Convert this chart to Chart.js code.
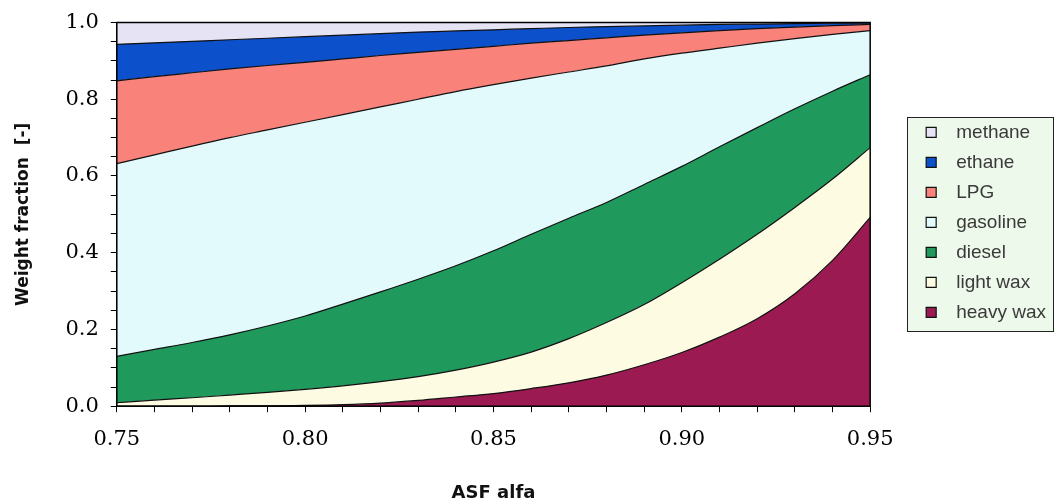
<!DOCTYPE html>
<html>
<head>
<meta charset="utf-8">
<script src="https://cdn.jsdelivr.net/npm/chart.js@4.4.1/dist/chart.umd.min.js"></script>
<style>
  html, body { margin: 0; padding: 0; background: #fff; }
</style>
</head>
<body>
<canvas id="asfChart" width="1056" height="504"></canvas>
<script>
// ASF alfa values on the x axis
const alfa = [0.75, 0.76, 0.77, 0.78, 0.79, 0.80, 0.81, 0.82, 0.83, 0.84, 0.85,
              0.86, 0.87, 0.88, 0.89, 0.90, 0.91, 0.92, 0.93, 0.94, 0.95];

// weight fraction of each product cut (stacked from the bottom)
const heavyWax = [0.000, 0.000, 0.000, 0.001, 0.001, 0.002, 0.004, 0.008, 0.015, 0.024, 0.033,
                  0.046, 0.061, 0.081, 0.108, 0.140, 0.180, 0.228, 0.293, 0.380, 0.492];
const lightWax = [0.009, 0.016, 0.022, 0.028, 0.035, 0.042, 0.049, 0.056, 0.062, 0.070, 0.082,
                  0.095, 0.115, 0.137, 0.157, 0.182, 0.203, 0.220, 0.225, 0.212, 0.182];
const diesel   = [0.121, 0.132, 0.144, 0.157, 0.173, 0.191, 0.213, 0.234, 0.254, 0.272, 0.290,
                  0.307, 0.314, 0.313, 0.313, 0.303, 0.293, 0.278, 0.257, 0.229, 0.190];
const gasoline = [0.502, 0.507, 0.512, 0.514, 0.511, 0.505, 0.494, 0.482, 0.469, 0.454, 0.433,
                  0.407, 0.381, 0.356, 0.327, 0.295, 0.257, 0.220, 0.183, 0.148, 0.115];
const lpg      = [0.216, 0.204, 0.191, 0.179, 0.168, 0.156, 0.145, 0.134, 0.122, 0.110, 0.100,
                  0.091, 0.082, 0.073, 0.062, 0.053, 0.046, 0.038, 0.030, 0.023, 0.016];
const ethane   = [0.095, 0.088, 0.082, 0.076, 0.071, 0.067, 0.062, 0.057, 0.053, 0.048, 0.043,
                  0.038, 0.034, 0.029, 0.024, 0.020, 0.016, 0.012, 0.009, 0.006, 0.004];
const methane  = [0.057, 0.053, 0.049, 0.045, 0.041, 0.037, 0.033, 0.029, 0.025, 0.022, 0.019,
                  0.016, 0.013, 0.011, 0.009, 0.007, 0.005, 0.004, 0.003, 0.002, 0.001];

// labelled ticks
const xTickValues = [0.75, 0.80, 0.85, 0.90, 0.95];
const xTickLabels = ['0.75', '0.80', '0.85', '0.90', '0.95'];
const yTickValues = [0.0, 0.2, 0.4, 0.6, 0.8, 1.0];
const yTickLabels = ['0.0', '0.2', '0.4', '0.6', '0.8', '1.0'];

function pickLabel(values, labels, v) {
    const i = values.findIndex(t => Math.abs(t - v) < 1e-6);
    return i >= 0 ? labels[i] : '';
}

function series(label, values, color, first) {
    return {
        label: label,
        data: values.map((v, i) => ({ x: alfa[i], y: v })),
        backgroundColor: color,
        borderColor: '#111',
        borderWidth: 1.2,
        fill: first ? 'origin' : '-1',
        pointRadius: 0,
        tension: 0.35,
        cubicInterpolationMode: 'monotone'
    };
}

// light green legend box and the black frame round the plot
const boxesPlugin = {
    id: 'boxes',
    beforeDraw(chart) {
        const hb = chart.legend && chart.legend.legendHitBoxes;
        if (!hb || !hb.length) return;
        const ctx = chart.ctx;
        const first = hb[0], last = hb[hb.length - 1];
        const left = Math.round(first.left - 19) + 0.5;
        const top = Math.round(first.top - 6) + 0.5;
        const bottom = Math.round(last.top + last.height + 9) + 0.5;
        const right = chart.width - 2.5;
        ctx.save();
        ctx.fillStyle = '#edf9ea';
        ctx.fillRect(left, top, right - left, bottom - top);
        ctx.strokeStyle = '#222';
        ctx.lineWidth = 1;
        ctx.strokeRect(left, top, right - left, bottom - top);
        ctx.restore();
    },
    afterDatasetsDraw(chart) {
        const a = chart.chartArea;
        const ctx = chart.ctx;
        ctx.save();
        ctx.strokeStyle = '#000';
        ctx.lineWidth = 1.5;
        ctx.strokeRect(a.left, a.top, a.right - a.left, a.bottom - a.top);
        ctx.restore();
    }
};

const ctx = document.getElementById('asfChart').getContext('2d');

const asfChart = new Chart(ctx, {
    type: 'line',
    data: {
        datasets: [
            series('heavy wax', heavyWax, '#9b1a51', true),
            series('light wax', lightWax, '#fdfce2'),
            series('diesel', diesel, '#20995d'),
            series('gasoline', gasoline, '#e3fafd'),
            series('LPG', lpg, '#f9837a'),
            series('ethane', ethane, '#0c50cc'),
            series('methane', methane, '#e5e3f4')
        ]
    },
    options: {
        responsive: false,
        animation: false,
        layout: { padding: { left: 4, top: 4, right: 0, bottom: 0 } },
        plugins: {
            tooltip: { enabled: false },
            legend: {
                position: 'right',
                reverse: true,
                fullSize: false,
                title: { display: true, text: ' ', font: { size: 10 }, padding: { top: 0, bottom: 4 } },
                labels: {
                    boxWidth: 10,
                    boxHeight: 10,
                    padding: 11,
                    color: '#3a3a3a',
                    font: { family: 'Liberation Sans', size: 19 },
                    generateLabels(chart) {
                        const items = Chart.defaults.plugins.legend.labels.generateLabels(chart);
                        items.forEach(it => { it.text = '  ' + it.text; });
                        return items;
                    }
                }
            }
        },
        scales: {
            x: {
                type: 'linear',
                min: 0.75,
                max: 0.95,
                border: { color: '#000', width: 1.5 },
                grid: { drawOnChartArea: false, tickLength: 6, tickColor: '#000' },
                ticks: {
                    stepSize: 0.01,
                    autoSkip: false,
                    maxRotation: 0,
                    padding: 15,
                    color: '#000',
                    font: { family: 'DejaVu Serif', size: 21 },
                    callback: v => pickLabel(xTickValues, xTickLabels, v)
                },
                title: {
                    display: true,
                    text: 'ASF alfa',
                    color: '#111',
                    font: { family: 'DejaVu Sans', size: 18, weight: 'bold' },
                    padding: { top: 15, bottom: 0 }
                }
            },
            y: {
                stacked: true,
                min: 0,
                max: 1,
                border: { color: '#000', width: 1.5 },
                grid: { drawOnChartArea: false, tickLength: 6, tickColor: '#000' },
                ticks: {
                    stepSize: 0.05,
                    autoSkip: false,
                    padding: 12,
                    color: '#000',
                    font: { family: 'DejaVu Serif', size: 21, lineHeight: 1.0 },
                    callback: v => pickLabel(yTickValues, yTickLabels, v)
                },
                title: {
                    display: true,
                    text: 'Weight fraction  [-]',
                    color: '#111',
                    font: { family: 'DejaVu Sans', size: 17, weight: 'bold' },
                    padding: { top: 9, bottom: 20 }
                }
            },
            // empty space between the plot and the legend
            gap: {
                type: 'linear',
                position: 'right',
                display: true,
                grid: { display: false },
                border: { display: false },
                ticks: { display: false },
                afterFit(scale) { scale.width = 45; }
            }
        }
    },
    plugins: [boxesPlugin]
});
</script>
</body>
</html>
